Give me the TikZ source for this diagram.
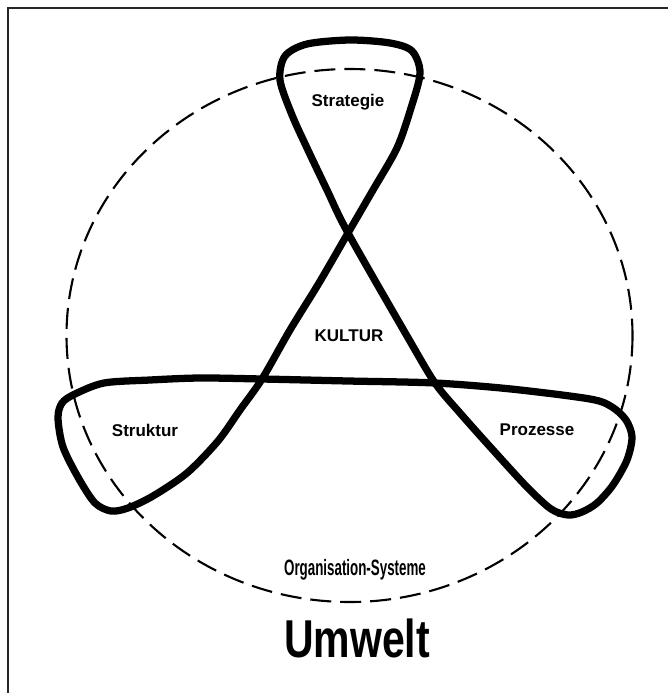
\documentclass[tikz,border=0pt]{standalone}
\usepackage{fontspec}
\setmainfont{Liberation Sans}
\begin{document}
\begin{tikzpicture}[x=0.03cm,y=-0.03cm,
  lbl/.style={font=\bfseries\fontsize{14.5}{17}\selectfont, inner sep=0pt},
  loopline/.style={line width=6.2pt, line join=round},
  envline/.style={line width=1.8pt, dash pattern=on 0.63cm off 0.27cm},
  framel/.style={line width=1.7pt, black!85}]
\useasboundingbox (0,0) rectangle (668,693);
% frame (only left and top visible)
\draw[framel] (8,693) -- (8,8) -- (668,8);
% dashed boundary: Organisation-Systeme
\draw[envline] (349.5,335.5) ellipse [x radius=283, y radius=266.5];
% the three-lobed loop
\draw[loopline] plot[smooth cycle, tension=0.5] coordinates {
  (280,80) (285,56) (307,44) (350,40) (390,43) (412,51) (420,73) (411,108)
  (397,148) (373,190) (348,233) (319,283) (290,330) (262,379) (240,410)
  (218,441) (187,473) (153,496) (128,508) (111,511) (95,503) (79,479)
  (63,447) (58,418) (62,403) (75,394) (104,383) (150,380) (200,378)
  (262,379) (348,381) (435,383) (511,389) (590,399) (612,407) (626,420)
  (632,437) (627,460) (613,485) (597,503) (582,512) (568,515) (551,509)
  (527,487) (493,450) (460,413) (435,383) (407,336) (348,233) (327,190)
  (307,148) (292,115)};
% labels
\node[lbl] (strat) at (348,102) {Strategie};
\node[lbl] (kult) at (349,336) {KULTUR};
\node[lbl] (strukt) at (145,430) {Struktur};
\node[lbl] (proz) at (537,430) {Prozesse};
\node[font=\bfseries\fontsize{19}{22}\selectfont, inner sep=0pt] (org) at (355,570) {\scalebox{0.6}[1]{Organisation-Systeme}};
\node[font=\bfseries\fontsize{35}{40}\selectfont, inner sep=0pt] (umw) at (357,638) {\scalebox{1}[1.3]{Umwelt}};
\end{tikzpicture}
\end{document}
